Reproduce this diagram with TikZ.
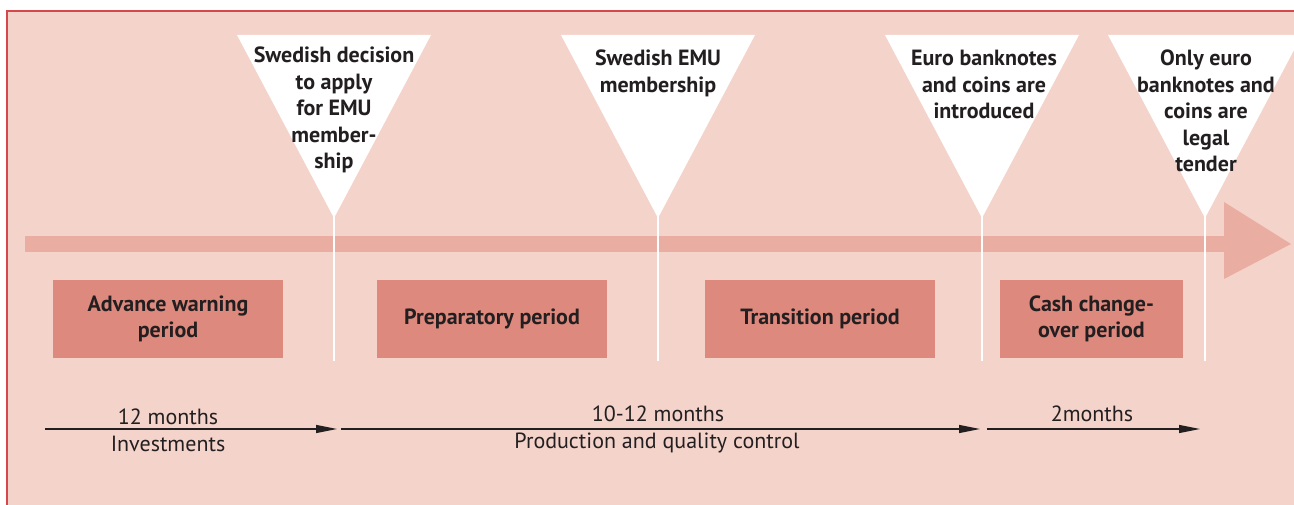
\documentclass[tikz,border=0pt]{standalone}
\usepackage{fontspec}
\setmainfont{PT Sans}
\usetikzlibrary{arrows.meta}
\definecolor{bgpink}{HTML}{F4D3CA}
\definecolor{framered}{HTML}{D4474C}
\definecolor{barpink}{HTML}{EAADA2}
\definecolor{boxred}{HTML}{DE897D}
\definecolor{ink}{HTML}{231F20}

\begin{document}
\begin{tikzpicture}[x=1pt,y=-1pt,
  period/.style={fill=boxred, minimum width=230pt, minimum height=78pt, inner sep=0pt,
    align=center, text=ink, font=\bfseries\fontsize{22}{26.5}\selectfont},
  event/.style={anchor=north, align=center, inner sep=0pt, text=ink,
    font=\bfseries\fontsize{22}{26.5}\selectfont},
  plain/.style={inner sep=0pt, text=ink, font=\fontsize{22}{26.5}\selectfont},
  span/.style={draw=ink, line width=1.2pt, -{Triangle[length=21pt,width=8pt]}}]
  \useasboundingbox (0,0) rectangle (1294,505);

  % background with frame on top and left
  \fill[bgpink] (7,11) rectangle (1294,505);
  \draw[framered, line width=2.5pt] (7,505)--(7,11)--(1294,11);

  % time bar
  \fill[barpink] (25,236) rectangle (1224,252);
  \fill[barpink] (1224,202)--(1291,244)--(1224,279)--cycle;

  % events: white triangles and marker lines
  \foreach \cx in {334,658,982,1205}{
    \fill[white] (\cx-97,35)--(\cx+97,35)--(\cx,218)--cycle;
    \draw[white, line width=2.2pt] (\cx,216)--(\cx,361);
  }
  \node[event] (decision) at (334,47) {Swedish decision\\to apply\\for EMU\\member-\\ship};
  \node[event] (member) at (658,50) {Swedish EMU\\membership};
  \node[event] (intro) at (984,50) {Euro banknotes\\and coins are\\introduced};
  \node[event] (legal) at (1206,50) {Only euro\\banknotes and\\coins are\\legal\\tender};

  % periods
  \node[period] (warning) at (168,319) {Advance warning\\period};
  \node[period] (prep) at (492,319) {Preparatory period};
  \node[period] (trans) at (820,319) {Transition period};
  \node[period, minimum width=183pt] (cash) at (1091.5,319) {Cash change-\\over period};

  % durations
  \coordinate (a0) at (45,429);  \coordinate (a1) at (337,429);
  \coordinate (b0) at (341,429); \coordinate (b1) at (980,429);
  \coordinate (c0) at (987,429); \coordinate (c1) at (1200,429);
  \draw[span] (a0)--(a1);
  \draw[span] (b0)--(b1);
  \draw[span] (c0)--(c1);
  \node[plain] (twelve) at (168,417) {12 months};
  \node[plain] (invest) at (168,444) {Investments};
  \node[plain] (tentwelve) at (658,414) {10-12 months};
  \node[plain] (quality) at (657,443) {Production and quality control};
  \node[plain] (two) at (1092,414) {2months};
\end{tikzpicture}
\end{document}
